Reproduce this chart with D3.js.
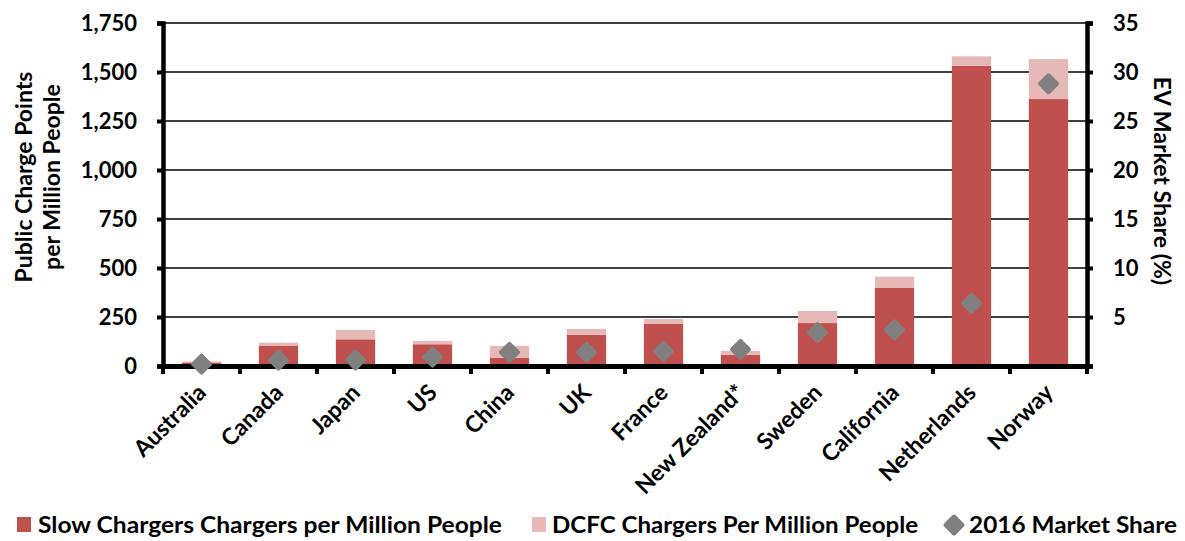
<!DOCTYPE html>
<html>
<head>
<meta charset="utf-8">
<script src="https://cdn.jsdelivr.net/npm/d3@7"></script>
<style>
  body { margin: 0; background: #fff; }
  text { font-family: Lato, "Open Sans", sans-serif; font-weight: bold; fill: #000; }
</style>
</head>
<body>
<div class="chart"></div>
<script>
// chart values
var categories = ["Australia", "Canada", "Japan", "US", "China", "UK", "France",
  "New Zealand*", "Sweden", "California", "Netherlands", "Norway"];
var slowChargers = [18, 104, 136, 111, 41, 160, 216, 56, 219, 398, 1532, 1362];
var dcfcChargers = [5, 15, 48, 17, 61, 29, 24, 21, 62, 58, 48, 204];
var marketShare = [0.2, 0.6, 0.6, 0.9, 1.4, 1.4, 1.5, 1.7, 3.4, 3.7, 6.4, 28.8];
var leftTicks = [0, 250, 500, 750, 1000, 1250, 1500, 1750];
var rightTicks = [5, 10, 15, 20, 25, 30, 35];

var svgWidth = 1185;
var svgHeight = 541;

var margin = { top: 23, right: 98, bottom: 175, left: 163 };
var width = svgWidth - margin.left - margin.right;
var height = svgHeight - margin.top - margin.bottom;

var slowColor = "#C0504D";
var dcfcColor = "#E6B9B8";
var shareColor = "#808080";

var svg = d3.select(".chart")
  .append("svg")
  .attr("width", svgWidth)
  .attr("height", svgHeight);

var chartGroup = svg.append("g")
  .attr("transform", `translate(${margin.left}, ${margin.top})`);

var table = categories.map(function(c, i) {
  return { name: c, slow: slowChargers[i], dcfc: dcfcChargers[i], share: marketShare[i] };
});

var xScale = d3.scaleBand()
  .domain(categories)
  .range([0, width])
  .paddingInner(0.49)
  .paddingOuter(0.245);

var yLeft = d3.scaleLinear().domain([0, 1750]).range([height, 0]);
var yRight = d3.scaleLinear().domain([0, 35]).range([height, 0]);

// gridlines (behind bars)
chartGroup.append("g")
  .selectAll("line")
  .data(leftTicks.filter(d => d > 0))
  .enter()
  .append("line")
  .attr("x1", 0)
  .attr("x2", width)
  .attr("y1", d => yLeft(d))
  .attr("y2", d => yLeft(d))
  .attr("stroke", "#000")
  .attr("stroke-width", 1.7);

// stacked bars
var stacked = d3.stack().keys(["slow", "dcfc"])(table);
var colors = { slow: slowColor, dcfc: dcfcColor };

chartGroup.selectAll(".layer")
  .data(stacked)
  .enter()
  .append("g")
  .attr("fill", d => colors[d.key])
  .selectAll("rect")
  .data(d => d)
  .enter()
  .append("rect")
  .attr("x", d => xScale(d.data.name))
  .attr("width", xScale.bandwidth())
  .attr("y", d => yLeft(d[1]))
  .attr("height", d => yLeft(d[0]) - yLeft(d[1]));

// axes
var leftAxis = d3.axisLeft(yLeft).tickValues(leftTicks).tickSize(6).tickPadding(20)
  .tickFormat(d3.format(","));
var rightAxis = d3.axisRight(yRight).tickValues(rightTicks.concat([0])).tickSize(6).tickPadding(20)
  .tickFormat(d => d === 0 ? "" : d);
var bottomAxis = d3.axisBottom(xScale).tickSize(0).tickFormat("");

function styleAxis(g) {
  g.select(".domain").attr("stroke", "#000").attr("stroke-width", 4.5);
  g.selectAll(".tick line").attr("stroke", "#000").attr("stroke-width", 4);
  g.selectAll(".tick text").style("font-size", "22px").style("font-family", "Lato, sans-serif")
    .style("font-weight", "bold").attr("fill", "#000");
}

chartGroup.append("g").call(leftAxis).call(styleAxis);
chartGroup.append("g").attr("transform", `translate(${width}, 0)`).call(rightAxis).call(styleAxis);

var xAxisG = chartGroup.append("g").attr("transform", `translate(0, ${height})`).call(bottomAxis);
xAxisG.select(".domain").attr("stroke", "#000").attr("stroke-width", 5);

// category tick marks at band boundaries
var step = xScale.step();
xAxisG.selectAll(".sep")
  .data(d3.range(categories.length + 1))
  .enter()
  .append("line")
  .attr("x1", d => d * step)
  .attr("x2", d => d * step)
  .attr("y1", 0)
  .attr("y2", 8)
  .attr("stroke", "#000")
  .attr("stroke-width", 4);

// category labels
chartGroup.append("g")
  .selectAll("text")
  .data(categories)
  .enter()
  .append("text")
  .attr("transform", d => `translate(${xScale(d) + xScale.bandwidth() / 2 + 6}, ${height + 28}) rotate(-45)`)
  .style("text-anchor", "end")
  .style("font-size", "23px")
  .text(d => d);

// market share diamonds
chartGroup.append("g")
  .selectAll("rect")
  .data(table)
  .enter()
  .append("rect")
  .attr("x", -8)
  .attr("y", -8)
  .attr("width", 16)
  .attr("height", 16)
  .attr("rx", 2)
  .attr("fill", shareColor)
  .attr("transform", d => `translate(${xScale(d.name) + xScale.bandwidth() / 2}, ${yRight(d.share)}) rotate(45)`);

// axis titles
svg.append("text")
  .attr("transform", "translate(32, 177) rotate(-90)")
  .style("text-anchor", "middle")
  .style("font-size", "23px")
  .text("Public Charge Points");

svg.append("text")
  .attr("transform", "translate(60, 177) rotate(-90)")
  .style("text-anchor", "middle")
  .style("font-size", "23px")
  .text("per Million People");

svg.append("text")
  .attr("transform", "translate(1154, 181) rotate(90)")
  .style("text-anchor", "middle")
  .style("font-size", "23px")
  .text("EV Market Share (%)");

// legend
var legend = svg.append("g").attr("transform", "translate(0, 525)");

legend.append("rect").attr("x", 17).attr("y", -8).attr("width", 14).attr("height", 15).attr("fill", slowColor);
legend.append("text").attr("x", 38).attr("y", 8).style("font-size", "22px")
  .attr("textLength", 464).attr("lengthAdjust", "spacingAndGlyphs")
  .text("Slow Chargers Chargers per Million People");

legend.append("rect").attr("x", 532).attr("y", -8).attr("width", 14).attr("height", 15).attr("fill", dcfcColor);
legend.append("text").attr("x", 552).attr("y", 8).style("font-size", "22px")
  .attr("textLength", 366).attr("lengthAdjust", "spacingAndGlyphs")
  .text("DCFC Chargers Per Million People");

legend.append("rect").attr("x", -8).attr("y", -8).attr("width", 16).attr("height", 16).attr("rx", 2)
  .attr("fill", shareColor).attr("transform", "translate(954, 0) rotate(45)");
legend.append("text").attr("x", 969).attr("y", 8).style("font-size", "22px")
  .attr("textLength", 208).attr("lengthAdjust", "spacingAndGlyphs")
  .text("2016 Market Share");
</script>
</body>
</html>
